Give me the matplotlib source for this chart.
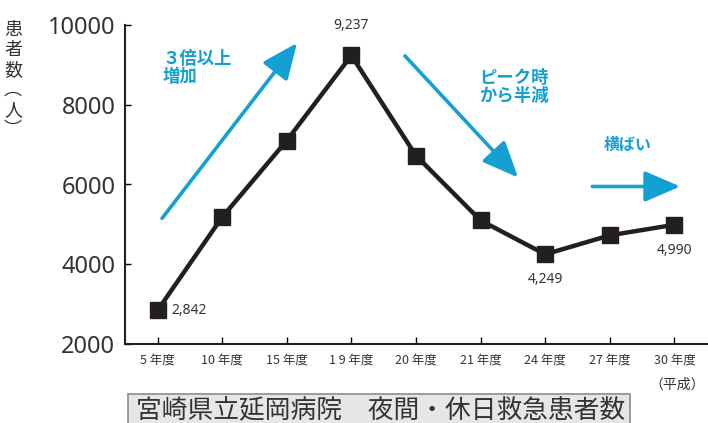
import matplotlib
matplotlib.use("Agg")
import matplotlib.pyplot as plt
from matplotlib.patches import Rectangle

plt.rcParams['font.family'] = ['Noto Sans CJK JP', 'DejaVu Sans']

# data
years = ['5 年度', '10 年度', '15 年度', '1 9 年度', '20 年度', '21 年度', '24 年度', '27 年度', '30 年度']
patients = [2842, 5180, 7100, 9237, 6725, 5100, 4249, 4725, 4990]
labeled = {0: '2,842', 3: '9,237', 6: '4,249', 8: '4,990'}
yticks = [2000, 4000, 6000, 8000, 10000]

blue = '#14a0d2'
gray = '#333333'

fig = plt.figure(figsize=(7.08, 4.23), dpi=100)
ax = fig.add_axes([125 / 708, 79 / 423, 583 / 708, 319 / 423])

x = list(range(len(years)))
ax.plot(x, patients, color='#231f20', lw=3.2, marker='s', ms=11, zorder=3, clip_on=False)

ax.set_xlim(-0.503, 8.52)
ax.set_ylim(2000, 10000)
ax.set_yticks(yticks)
ax.set_yticklabels([str(v) for v in yticks], fontsize=17, color=gray, family='Noto Sans')
ax.set_xticks(x)
ax.set_xticklabels(years, fontsize=9, color=gray)
ax.tick_params(axis='y', direction='in', length=4, width=1, pad=7)
ax.tick_params(axis='x', direction='in', length=5, width=1, pad=7)
for s in ['top', 'right']:
    ax.spines[s].set_visible(False)
for s in ['left', 'bottom']:
    ax.spines[s].set_linewidth(1.5)
    ax.spines[s].set_color('#231f20')

# value labels
offsets = {0: (14, 0, 'left', 'center'), 3: (0, 22, 'center', 'bottom'),
           6: (0, -18, 'center', 'top'), 8: (0, -18, 'center', 'top')}
for i, txt in labeled.items():
    dx, dy, ha, va = offsets[i]
    ax.annotate(txt, (x[i], patients[i]), xytext=(dx, dy), textcoords='offset pixels',
                ha=ha, va=va, fontsize=10, color=gray, family='Noto Sans')

# trend arrows
arrow_kw = dict(arrowstyle='-|>,head_length=2.2,head_width=0.95', color=blue, lw=2.6,
                shrinkA=0, shrinkB=0)
ax.annotate('', xy=(2.16, 9550), xytext=(0.07, 5150), arrowprops=arrow_kw, annotation_clip=False)
ax.annotate('', xy=(5.58, 6175), xytext=(3.83, 9225), arrowprops=arrow_kw, annotation_clip=False)
ax.annotate('', xy=(8.09, 5950), xytext=(6.73, 5950), arrowprops=arrow_kw, annotation_clip=False)

fig.text(163 / 708, 1 - 68 / 423, '３倍以上\n増加', color=blue, fontsize=12.5, fontweight='bold',
         ha='left', va='center', linespacing=1.0)
fig.text(514 / 708, 1 - 87 / 423, 'ピーク時\nから半減', color=blue, fontsize=12.5, fontweight='bold',
         ha='center', va='center', linespacing=1.0)
fig.text(628 / 708, 1 - 145 / 423, '横ばい', color=blue, fontsize=11.5, fontweight='bold',
         ha='center', va='center')

# y label (vertical)
fig.text(13 / 708, 1 - 80 / 423, '\n'.join('患者数︵人︶'), color=gray, fontsize=13,
         ha='center', va='center', linespacing=1.15)

fig.text(705 / 708, 1 - 385 / 423, '（平成）', color=gray, fontsize=10, ha='right', va='center')

# caption box
fig.patches.append(Rectangle((128 / 708, -0.05), 502 / 708, 29 / 423 + 0.05,
                             transform=fig.transFigure, facecolor='#e6e6e6',
                             edgecolor='#8c8c8c', lw=1.2))
fig.text(381 / 708, 1 - 410 / 423, '宮崎県立延岡病院　夜間・休日救急患者数', color=gray,
         fontsize=18.5, ha='center', va='center')

fig.savefig('out.png', dpi=100)
